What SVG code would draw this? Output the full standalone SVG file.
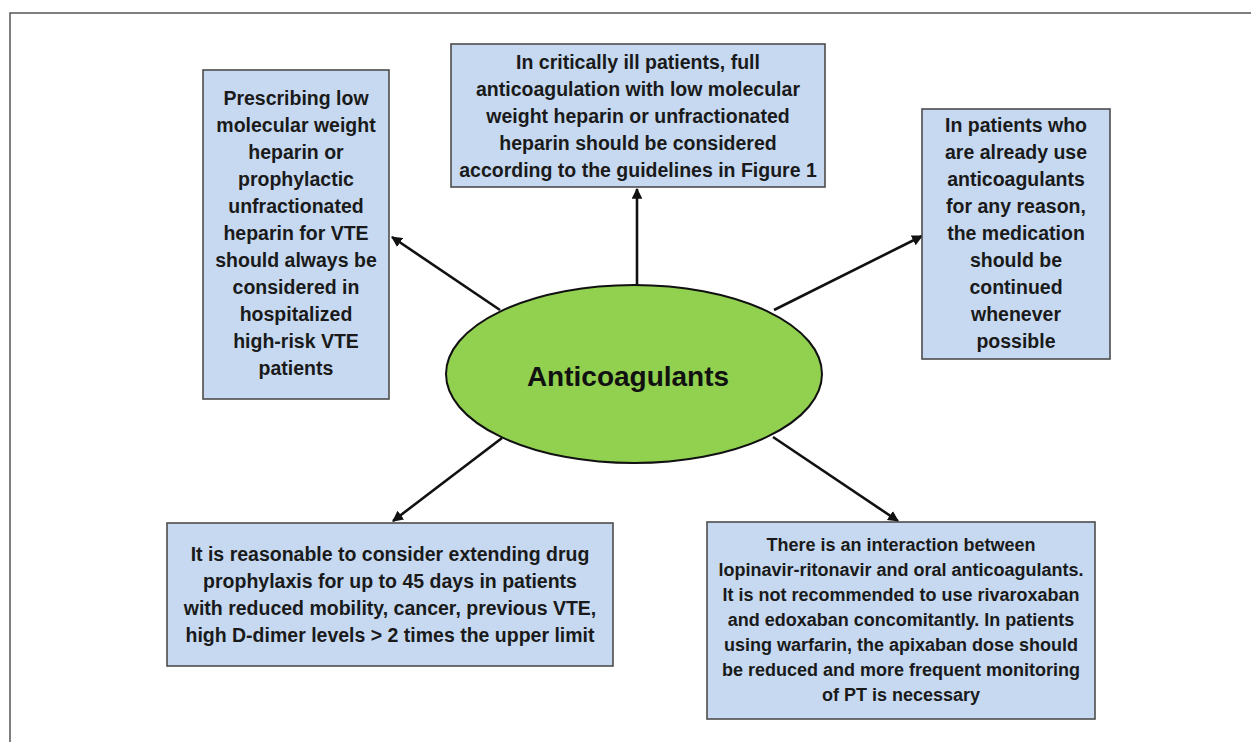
<svg xmlns="http://www.w3.org/2000/svg" width="1251" height="742" viewBox="0 0 1251 742">
<style>
.box{fill:#c6d9f1;stroke:#4d4d4d;stroke-width:1.6}
.t{font-family:"Liberation Sans",Arial,sans-serif;font-weight:bold;font-size:19.5px;fill:#1a1a1a;text-anchor:middle}
.t2{font-family:"Liberation Sans",Arial,sans-serif;font-weight:bold;font-size:18px;fill:#1a1a1a;text-anchor:middle}
.c{stroke:#111;stroke-width:2.6;fill:none;marker-end:url(#ah)}
</style>
<defs>
<marker id="ah" viewBox="0 0 10 10" refX="9" refY="5" markerWidth="4.2" markerHeight="4.2" orient="auto" markerUnits="strokeWidth">
<path d="M0,0 L10,5 L0,10 z" fill="#111"/>
</marker>
</defs>
<rect x="0" y="0" width="1251" height="742" fill="#fff"/>
<path d="M10,742 V13 H1251" fill="none" stroke="#555" stroke-width="1.5"/>
<g id="connectors">
<line class="c" x1="500" y1="310" x2="392" y2="237"/>
<line class="c" x1="637" y1="285" x2="637" y2="189"/>
<line class="c" x1="774" y1="310" x2="922" y2="236"/>
<line class="c" x1="502" y1="438" x2="393" y2="521"/>
<line class="c" x1="773" y1="437" x2="898" y2="521"/>
</g>
<g id="center">
<ellipse cx="634" cy="374" rx="188" ry="89" fill="#92d050" stroke="#111" stroke-width="2"/>
<text x="628" y="386" font-family="Liberation Sans,Arial,sans-serif" font-weight="bold" font-size="28" fill="#111" text-anchor="middle">Anticoagulants</text>
</g>
<g id="n-left">
<rect class="box" x="203" y="70" width="186" height="329"/>
<text class="t"><tspan x="296" y="105">Prescribing low</tspan><tspan x="296" y="132">molecular weight</tspan><tspan x="296" y="159">heparin or</tspan><tspan x="296" y="186">prophylactic</tspan><tspan x="296" y="213">unfractionated</tspan><tspan x="296" y="240">heparin for VTE</tspan><tspan x="296" y="267">should always be</tspan><tspan x="296" y="294">considered in</tspan><tspan x="296" y="321">hospitalized</tspan><tspan x="296" y="348">high-risk VTE</tspan><tspan x="296" y="375">patients</tspan></text>
</g>
<g id="n-top">
<rect class="box" x="451" y="44" width="374" height="143"/>
<text class="t"><tspan x="638" y="69">In critically ill patients, full</tspan><tspan x="638" y="96">anticoagulation with low molecular</tspan><tspan x="638" y="123">weight heparin or unfractionated</tspan><tspan x="638" y="150">heparin should be considered</tspan><tspan x="638" y="177">according to the guidelines in Figure 1</tspan></text>
</g>
<g id="n-right">
<rect class="box" x="922" y="109" width="188" height="250"/>
<text class="t"><tspan x="1016" y="132">In patients who</tspan><tspan x="1016" y="159">are already use</tspan><tspan x="1016" y="186">anticoagulants</tspan><tspan x="1016" y="213">for any reason,</tspan><tspan x="1016" y="240">the medication</tspan><tspan x="1016" y="267">should be</tspan><tspan x="1016" y="294">continued</tspan><tspan x="1016" y="321">whenever</tspan><tspan x="1016" y="348">possible</tspan></text>
</g>
<g id="n-bottom-left">
<rect class="box" x="167" y="523" width="446" height="143"/>
<text class="t"><tspan x="390" y="561">It is reasonable to consider extending drug</tspan><tspan x="390" y="588">prophylaxis for up to 45 days in patients</tspan><tspan x="390" y="615">with reduced mobility, cancer, previous VTE,</tspan><tspan x="390" y="642">high D-dimer levels &gt; 2 times the upper limit</tspan></text>
</g>
<g id="n-bottom-right">
<rect class="box" x="707" y="522" width="388" height="197"/>
<text class="t2"><tspan x="901" y="551">There is an interaction between</tspan><tspan x="901" y="576">lopinavir-ritonavir and oral anticoagulants.</tspan><tspan x="901" y="601">It is not recommended to use rivaroxaban</tspan><tspan x="901" y="626">and edoxaban concomitantly. In patients</tspan><tspan x="901" y="651">using warfarin, the apixaban dose should</tspan><tspan x="901" y="676">be reduced and more frequent monitoring</tspan><tspan x="901" y="701">of PT is necessary</tspan></text>
</g>
</svg>
